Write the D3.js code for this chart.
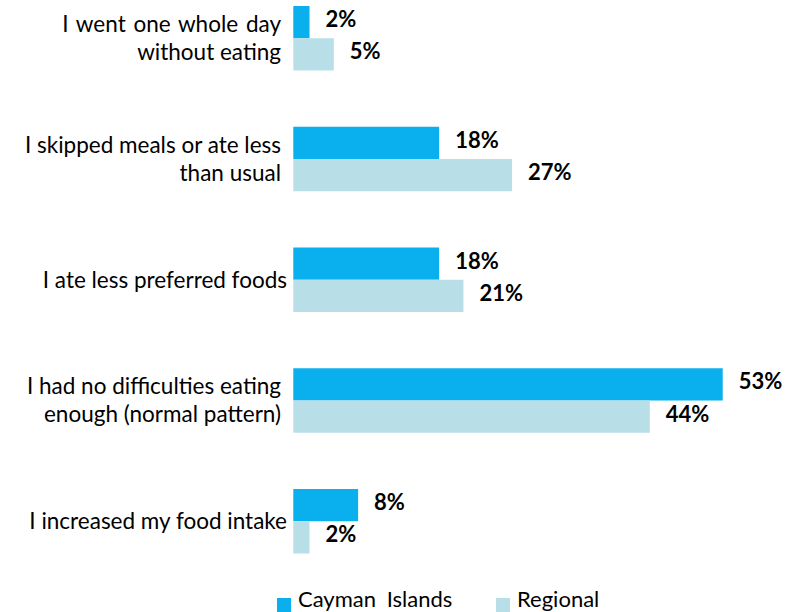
<!DOCTYPE html>
<html>
<head>
<meta charset="utf-8">
<script src="https://cdn.jsdelivr.net/npm/d3@7"></script>
<style>
  html, body { margin: 0; padding: 0; background: #fff; }
  svg { display: block; }
  text { font-family: Lato, "Open Sans", sans-serif; fill: #000; }
</style>
</head>
<body>
<svg id="chart" width="795" height="612"></svg>
<script>
// Food consumption pattern: Cayman Islands vs regional average (%)
const categories = [
  "I went one whole day without eating",
  "I skipped meals or ate less than usual",
  "I ate less preferred foods",
  "I had no difficulties eating enough (normal pattern)",
  "I increased my food intake"
];
const categoryLines = [
  ["I went one whole day", "without eating"],
  ["I skipped meals or ate less", "than usual"],
  ["I ate less preferred foods"],
  ["I had no difficulties eating", "enough (normal pattern)"],
  ["I increased my food intake"]
];
const seriesNames = ["Cayman Islands", "Regional"];
const caymanValues = [2, 18, 18, 53, 8];
const regionalValues = [5, 27, 21, 44, 2];
const seriesColors = ["#0AB0EE", "#B8DEE8"];

const rows = categories.map((c, i) => ({
  category: c,
  lines: categoryLines[i],
  values: [caymanValues[i], regionalValues[i]]
}));

const svg = d3.select("#chart");

const x = d3.scaleLinear().domain([0, 53]).range([293.3, 722.7]);
const y = d3.scaleBand().domain(categories).range([6, 553.5]).paddingInner(0.466);
const ySub = d3.scaleBand().domain(seriesNames).range([0, y.bandwidth()]);
const color = d3.scaleOrdinal().domain(seriesNames).range(seriesColors);

const groups = svg.append("g").selectAll("g")
  .data(rows)
  .join("g")
  .attr("transform", d => `translate(0,${y(d.category)})`);

// bars
groups.selectAll("rect")
  .data(d => d.values.map((v, k) => ({ series: seriesNames[k], value: v })))
  .join("rect")
  .attr("x", x(0))
  .attr("y", d => ySub(d.series))
  .attr("width", d => x(d.value) - x(0))
  .attr("height", ySub.bandwidth())
  .attr("fill", d => color(d.series));

// value labels
groups.selectAll("text.value")
  .data(d => d.values.map((v, k) => ({ series: seriesNames[k], value: v })))
  .join("text")
  .attr("class", "value")
  .attr("x", d => x(d.value) + 16)
  .attr("y", d => ySub(d.series) + ySub.bandwidth() / 2 + 5)
  .attr("font-size", 22)
  .attr("font-weight", "bold")
  .text(d => d.value + "%");

// category labels (wrapped lines are justified to a slightly narrower edge)
groups.each(function (d) {
  const n = d.lines.length;
  const lineH = 28;
  const cy = y.bandwidth() / 2;
  const xr = n > 1 ? 281 : 287;
  d3.select(this).selectAll("text.cat")
    .data(d.lines)
    .join("text")
    .attr("class", "cat")
    .attr("x", xr)
    .attr("y", (t, i) => cy + (i - (n - 1) / 2) * lineH + 8)
    .attr("text-anchor", "end")
    .attr("font-size", 22.5)
    .attr("word-spacing", (t, i) => (i === 0 && n > 1 && t.length < 22) ? 2 : 0)
    .text(t => t);
});

// legend
const legendX = [277, 496];
const legend = svg.append("g").selectAll("g")
  .data(seriesNames)
  .join("g")
  .attr("transform", (d, i) => `translate(${legendX[i]},598)`);
legend.append("rect")
  .attr("width", 14).attr("height", 14)
  .attr("fill", d => color(d));
legend.append("text")
  .attr("x", 21).attr("y", 9)
  .attr("font-size", 22)
  .attr("word-spacing", (d, i) => i === 0 ? 5 : 0)
  .text(d => d);
</script>
</body>
</html>
